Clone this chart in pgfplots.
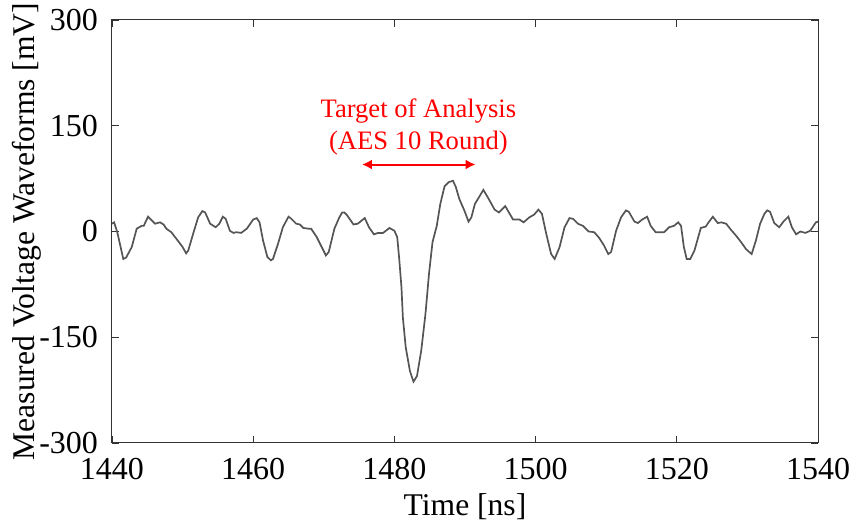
\documentclass[border=0pt]{standalone}
\usepackage{pgfplots}
\pgfplotsset{compat=1.18}
\usepackage{fontspec}
\setmainfont{Liberation Serif}
\usetikzlibrary{arrows.meta}
\definecolor{wave}{RGB}{85,85,85}
\begin{document}
\begin{tikzpicture}
\begin{axis}[
  scale only axis,
  width=353pt, height=211.5pt,
  xmin=1440, xmax=1540, ymin=-300, ymax=300,
  xtick={1440,1460,...,1540},
  ytick={-300,-150,0,150,300},
  /pgf/number format/assume math mode=true,
  /pgf/number format/set thousands separator={},
  tick label style={font=\fontsize{16}{18}\selectfont},
  xticklabel style={yshift=-4pt},
  yticklabel style={xshift=-3.5pt},
  label style={font=\fontsize{15.8}{18}\selectfont},
  major tick length=3.5pt,
  tick style={black!80, line width=0.4pt},
  axis line style={black!80, line width=0.5pt},
  xlabel={Time [ns]},
  ylabel={Measured Voltage Waveforms [mV]},
  xlabel style={at={(axis description cs:0.5,-0.151)},anchor=center},
  ylabel style={at={(axis description cs:-0.121,0.5)},anchor=center},
  clip=true,
]
\addplot[wave, line width=0.85pt] coordinates {
(1440.0,11) (1440.3,13) (1440.75,-1) (1441.6,-39) (1442.0,-37) (1442.8,-22)
(1443.5,4) (1444.2,8) (1444.5,8) (1445.1,21) (1446.1,11) (1446.8,13)
(1447.3,10) (1447.7,4) (1448.4,-1) (1449.4,-14) (1450.0,-22) (1450.5,-31)
(1450.8,-27) (1451.5,-3) (1452.2,20) (1452.8,29) (1453.2,27) (1453.9,11)
(1454.7,6) (1455.2,11) (1455.7,21) (1456.1,18) (1456.7,1) (1457.2,-2)
(1457.6,-1) (1458.3,-2) (1459.1,4) (1460.0,17) (1460.5,19) (1460.9,13)
(1461.4,-13) (1462.0,-36) (1462.5,-41) (1462.8,-39) (1463.5,-18) (1464.2,6)
(1465.0,21) (1465.4,18) (1466.1,11) (1466.6,10) (1467.1,5) (1467.8,4)
(1468.2,4) (1469.0,-8) (1469.7,-22) (1470.3,-34) (1470.7,-29) (1471.5,4)
(1472.2,20) (1472.6,27) (1472.9,27) (1473.3,23) (1474.2,10) (1474.8,11)
(1475.8,19) (1476.4,6) (1477.1,-4) (1477.7,-2) (1478.4,-2) (1479.3,5)
(1480.0,1) (1480.4,-8) (1480.7,-41) (1481.0,-79) (1481.2,-122) (1481.6,-164)
(1482.2,-198) (1482.7,-213) (1483.2,-205) (1483.8,-169) (1484.4,-117) (1484.9,-60)
(1485.4,-15) (1486.0,8) (1486.5,39) (1487.1,64) (1487.7,70) (1488.3,72)
(1488.7,63) (1489.2,46) (1489.9,30) (1490.5,14) (1490.9,20) (1491.4,39)
(1492.0,49) (1492.6,59) (1493.2,49) (1494.2,31) (1494.8,27) (1495.7,36)
(1496.8,17) (1497.7,17) (1498.3,13) (1499.1,20) (1499.8,24) (1500.4,31)
(1500.9,25) (1501.5,-3) (1502.2,-32) (1502.7,-39) (1503.4,-22) (1504.1,6)
(1504.8,19) (1505.3,18) (1506.0,11) (1506.7,8) (1507.5,0) (1508.3,-1)
(1509.0,-9) (1509.7,-20) (1510.3,-32) (1510.7,-29) (1511.4,1) (1512.1,20)
(1512.8,30) (1513.2,28) (1514.0,14) (1514.5,12) (1515.1,17) (1515.8,21)
(1516.3,8) (1517.0,-1) (1518.2,-1) (1518.9,6) (1519.6,8) (1520.2,13)
(1520.6,8) (1521.0,-22) (1521.4,-39) (1521.9,-39) (1522.5,-27) (1523.4,5)
(1524.1,7) (1524.5,13) (1525.1,21) (1525.8,12) (1526.3,13) (1527.0,11)
(1527.7,2) (1528.4,-6) (1529.1,-15) (1529.8,-25) (1530.6,-32) (1531.2,-13)
(1531.8,11) (1532.4,25) (1532.8,30) (1533.2,28) (1533.8,12) (1534.5,6)
(1535.1,14) (1535.8,21) (1536.3,6) (1536.9,-4) (1537.5,0) (1538.2,-2)
(1538.9,1) (1539.7,13) (1540.0,14)
};
\draw[red, line width=1pt, {Latex[length=5pt,width=5pt]}-{Latex[length=5pt,width=5pt]}] (axis cs:1475.4,95) -- (axis cs:1491.5,95);
\node[red, align=center, font=\fontsize{13.3}{16}\selectfont] at (axis cs:1483.4,148) {Target of Analysis\\(AES 10 Round)};
\end{axis}
\pgfresetboundingbox
\path[use as bounding box] ([xshift=-56pt,yshift=-42pt]current axis.south west) rectangle ([xshift=16pt,yshift=10pt]current axis.north east);
\end{tikzpicture}
\end{document}
